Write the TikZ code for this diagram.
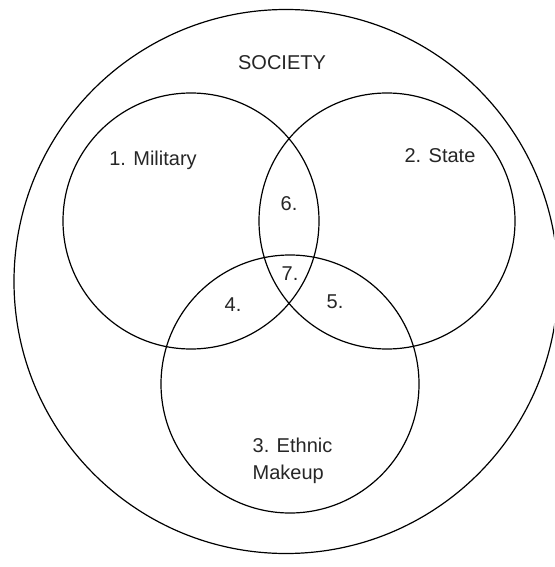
\documentclass[tikz,border=0pt]{standalone}
\usepackage{fontspec}
\setmainfont{Liberation Sans}
\usepackage{tikz}

\begin{document}
\begin{tikzpicture}[x=1pt, y=-1pt,
    ring/.style={draw=black, line width=1.2pt},
    lbl/.style={font=\fontsize{20}{27}\selectfont, text=black!85, inner sep=0pt}]
  \useasboundingbox (0,0) rectangle (554,567);
  \clip (0,0) rectangle (554,567);
  % society round everything, cut off at the right edge
  \draw[ring] (286,281.5) circle[radius=272pt];
  % the three sets
  \draw[ring] (191,221) circle[radius=128pt];
  \draw[ring] (387,221) circle[radius=128pt];
  \draw[ring] (290,384) circle[radius=129pt];
  \node[lbl] (society) at (282,63) {SOCIETY};
  \node[lbl] (military) at (153,160) {1. Military};
  \node[lbl] (state) at (440,155.5) {2. State};
  \node[lbl, align=left] (ethnic) at (292.5,461) {3. Ethnic\\Makeup};
  % the overlaps
  \foreach \x/\y/\n in {233/305/4, 335/302/5, 289/204/6, 290/274/7}
    \node[lbl] (ov\n) at (\x,\y) {\n.};
\end{tikzpicture}
\end{document}
